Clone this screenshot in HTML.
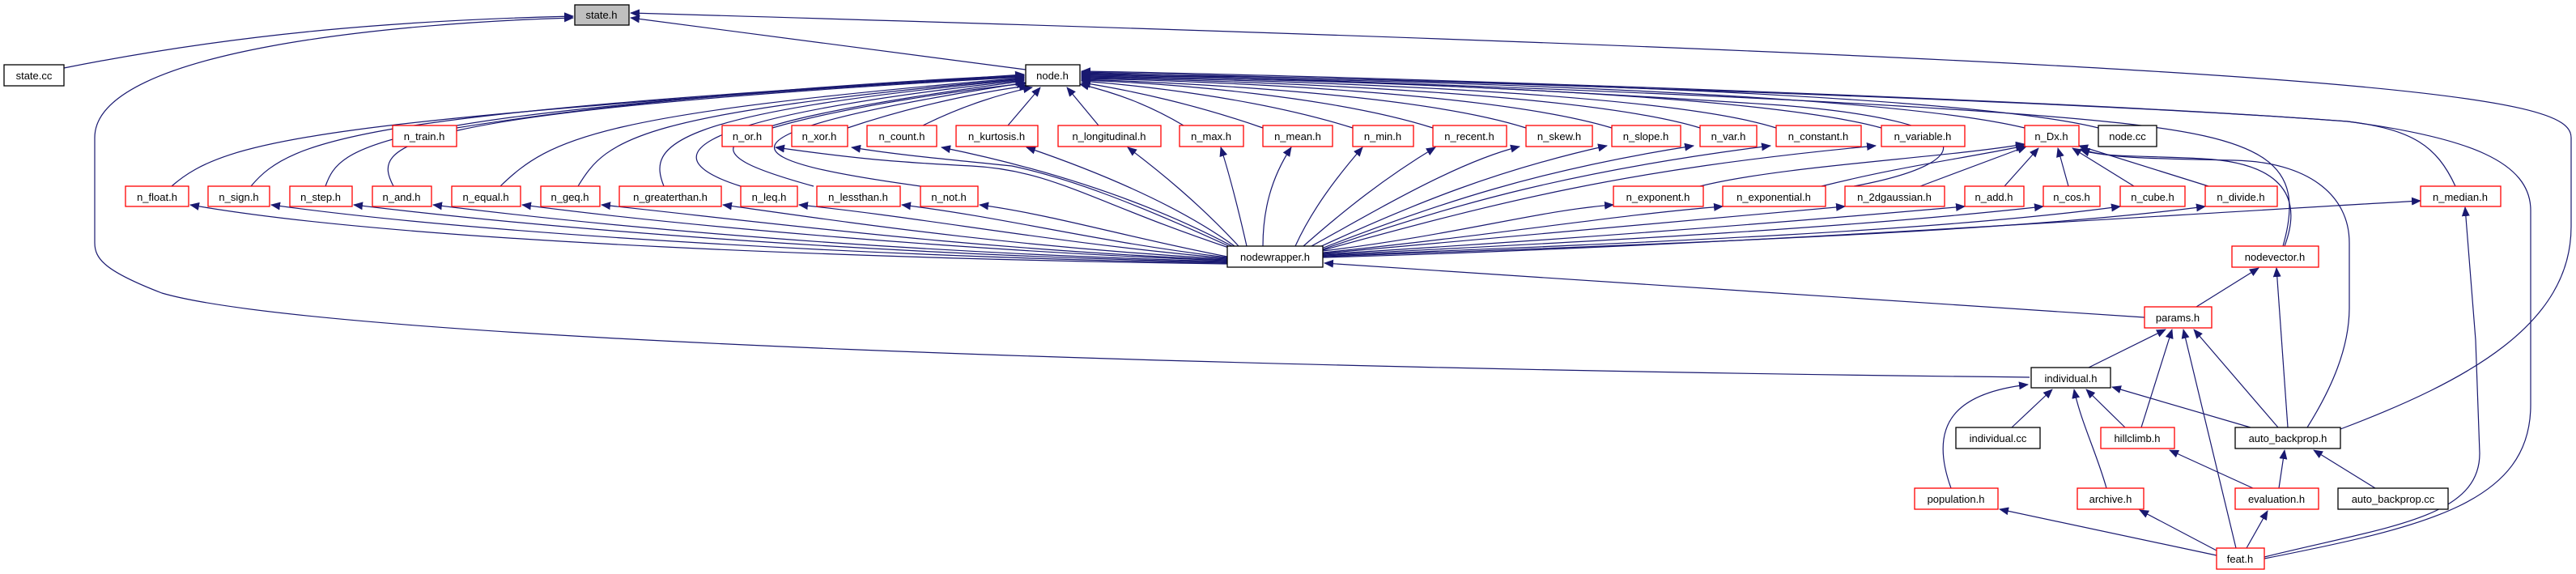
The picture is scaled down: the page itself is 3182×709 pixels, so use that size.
<!DOCTYPE html>
<html><head><meta charset="utf-8"><style>
html,body{margin:0;padding:0;background:#fff;}
svg{display:block;}
text{font-family:"Liberation Sans",sans-serif;font-size:13px;fill:#000;text-anchor:middle;}
.r{fill:#fff;stroke:#ff0000;stroke-width:1.3;}
.b{fill:#fff;stroke:#000;stroke-width:1.3;}
.e{fill:none;stroke:#191970;stroke-width:1.2;marker-end:url(#a);}
</style></head><body>
<svg width="3182" height="709" viewBox="0 0 3182 709" xmlns="http://www.w3.org/2000/svg">
<defs><marker id="a" markerWidth="12" markerHeight="10" refX="11" refY="5" orient="auto" markerUnits="userSpaceOnUse"><path d="M0,0 L12,5 L0,10 z" fill="#191970"/></marker></defs>
<g>
<path class="e" d="M79,84 C300,40 500,25 708,20"/>
<path class="e" d="M1267,86 L779,22"/>
<path class="e" d="M2507,466 C1500,455 400,420 200,362 C130,335 117,320 117,300 L117,170 C117,60 500,28 708,22"/>
<path class="e" d="M2891,530 C3050,470 3176,400 3176,280 L3176,170 C3176,120 3000,80 779,16"/>
<path class="e" d="M212,230 C280,170 400,150 1265,92"/>
<path class="e" d="M310,230 C360,170 450,140 1265,93"/>
<path class="e" d="M402,230 C420,180 450,140 1265,94"/>
<path class="e" d="M486,230 C460,180 470,140 1265,95"/>
<path class="e" d="M618,230 C680,170 740,140 1265,96"/>
<path class="e" d="M714,230 C750,170 790,140 1265,97"/>
<path class="e" d="M820,230 C800,180 820,140 1265,98"/>
<path class="e" d="M915,230 C820,200 800,150 1265,99"/>
<path class="e" d="M1005,230 C860,190 820,160 1265,100"/>
<path class="e" d="M1137,230 C920,200 830,170 1267,102"/>
<path class="e" d="M564,158 C800,120 1100,100 1265,93"/>
<path class="e" d="M954,158 C1050,130 1200,110 1267,103"/>
<path class="e" d="M1047,158 C1130,130 1220,112 1270,106"/>
<path class="e" d="M1140,155 C1190,130 1240,115 1275,108"/>
<path class="e" d="M1245,155 L1285,108"/>
<path class="e" d="M1357,155 L1318,108"/>
<path class="e" d="M1462,155 C1420,130 1380,115 1334,104"/>
<path class="e" d="M1560,158 C1480,130 1400,112 1336,102"/>
<path class="e" d="M1671,158 C1550,120 1400,105 1336,100"/>
<path class="e" d="M1770,158 C1650,120 1450,103 1336,99"/>
<path class="e" d="M1885,158 C1750,115 1450,102 1336,98"/>
<path class="e" d="M1991,158 C1850,115 1500,100 1336,97"/>
<path class="e" d="M2100,158 C1950,112 1500,99 1336,96"/>
<path class="e" d="M2194,158 C2050,112 1550,98 1336,95"/>
<path class="e" d="M2324,158 C2150,110 1550,97 1336,94"/>
<path class="e" d="M2501,158 C2300,110 1600,96 1336,93"/>
<path class="e" d="M2592,158 C2400,110 1600,94 1336,92"/>
<path class="e" d="M2290,230 C2450,200 2450,150 2200,130 C1900,110 1600,96 1336,91"/>
<path class="e" d="M2820,304 C2850,200 2800,170 2600,150 C2300,120 1600,98 1336,90"/>
<path class="e" d="M3033,230 C3010,180 2980,160 2900,150 C2500,120 1600,95 1336,89"/>
<path class="e" d="M2797,690 C3000,650 3126,620 3126,500 L3126,260 C3126,200 3050,170 2900,150 C2500,120 1600,92 1336,88"/>
<path class="e" d="M1516,326 C1100,320 500,300 235,253"/>
<path class="e" d="M1516,325 C1100,318 600,290 335,253"/>
<path class="e" d="M1516,324 C1100,315 700,285 437,253"/>
<path class="e" d="M1516,323 C1100,312 750,280 535,253"/>
<path class="e" d="M1516,322 C1200,310 850,280 645,253"/>
<path class="e" d="M1516,321 C1200,308 950,275 743,253"/>
<path class="e" d="M1516,320 C1250,305 1050,275 893,253"/>
<path class="e" d="M1516,319 C1300,300 1150,270 987,253"/>
<path class="e" d="M1516,318 C1350,298 1250,270 1114,253"/>
<path class="e" d="M1516,317 C1400,295 1300,265 1210,253"/>
<path class="e" d="M1518,306 C1350,250 1300,210 1200,205 C1100,200 1050,195 958,182"/>
<path class="e" d="M1520,305 C1400,250 1320,220 1250,205 C1150,195 1100,190 1052,182"/>
<path class="e" d="M1522,304 C1420,250 1300,210 1163,182"/>
<path class="e" d="M1525,304 C1450,250 1350,210 1268,182"/>
<path class="e" d="M1530,304 C1480,250 1430,210 1393,182"/>
<path class="e" d="M1540,304 C1530,260 1520,220 1508,182"/>
<path class="e" d="M1560,304 C1560,260 1570,220 1595,182"/>
<path class="e" d="M1600,304 C1620,260 1650,220 1683,182"/>
<path class="e" d="M1610,304 C1660,260 1710,220 1773,182"/>
<path class="e" d="M1620,304 C1700,260 1800,200 1877,181"/>
<path class="e" d="M1628,306 C1750,250 1850,210 1985,180"/>
<path class="e" d="M1632,307 C1780,250 1900,210 2092,180"/>
<path class="e" d="M1634,308 C1800,250 1950,210 2187,180"/>
<path class="e" d="M1634,309 C1850,250 2000,210 2317,180"/>
<path class="e" d="M1634,310 C1800,290 1900,260 1993,253"/>
<path class="e" d="M1634,312 C1850,290 2000,265 2128,255"/>
<path class="e" d="M1634,313 C1900,290 2100,270 2279,255"/>
<path class="e" d="M1634,314 C1950,295 2200,275 2427,255"/>
<path class="e" d="M1634,315 C2000,297 2300,280 2524,255"/>
<path class="e" d="M1634,316 C2050,299 2400,285 2619,255"/>
<path class="e" d="M1634,317 C2100,300 2500,285 2724,255"/>
<path class="e" d="M1634,318 C2100,305 2600,270 2990,248"/>
<path class="e" d="M2100,230 C2200,205 2400,195 2501,178"/>
<path class="e" d="M2250,230 C2350,205 2430,195 2501,180"/>
<path class="e" d="M2372,230 L2503,181"/>
<path class="e" d="M2476,230 L2518,183"/>
<path class="e" d="M2555,230 L2542,183"/>
<path class="e" d="M2636,230 L2560,183"/>
<path class="e" d="M2728,230 L2568,180"/>
<path class="e" d="M2822,304 C2850,230 2800,200 2720,196 C2650,192 2600,195 2570,185"/>
<path class="e" d="M2850,528 C2880,480 2902,430 2902,380 L2902,300 C2902,240 2850,200 2760,198 C2650,196 2600,195 2570,184"/>
<path class="e" d="M2649,392 L1636,325"/>
<path class="e" d="M2713,379 L2790,331"/>
<path class="e" d="M2826,528 L2812,331"/>
<path class="e" d="M2797,688 C2950,650 3063,640 3063,560 L3058,420 L3045,256"/>
<path class="e" d="M2580,454 L2675,407"/>
<path class="e" d="M2645,528 L2683,407"/>
<path class="e" d="M2762,677 L2697,407"/>
<path class="e" d="M2814,528 L2710,407"/>
<path class="e" d="M2485,528 L2535,481"/>
<path class="e" d="M2625,528 L2577,481"/>
<path class="e" d="M2602,603 C2590,560 2570,520 2562,481"/>
<path class="e" d="M2410,603 C2380,520 2420,485 2505,475"/>
<path class="e" d="M2780,528 L2609,478"/>
<path class="e" d="M2815,603 L2822,556"/>
<path class="e" d="M2934,603 L2858,556"/>
<path class="e" d="M2783,603 L2680,556"/>
<path class="e" d="M2775,677 L2801,631"/>
<path class="e" d="M2738,680 L2643,630"/>
<path class="e" d="M2738,686 L2470,629"/>
</g>
<g>
<rect x="710" y="6" width="67" height="25" fill="#bfbfbf" stroke="#000" stroke-width="1.3"/><text x="743" y="23">state.h</text>
<rect class="b" x="5" y="80" width="74" height="26"/><text x="42" y="98">state.cc</text>
<rect class="b" x="1267" y="80" width="67" height="26"/><text x="1300" y="98">node.h</text>
<rect class="r" x="485" y="155" width="79" height="26"/><text x="524" y="173">n_train.h</text>
<rect class="r" x="892" y="155" width="62" height="26"/><text x="923" y="173">n_or.h</text>
<rect class="r" x="978" y="155" width="69" height="26"/><text x="1012" y="173">n_xor.h</text>
<rect class="r" x="1071" y="155" width="86" height="26"/><text x="1114" y="173">n_count.h</text>
<rect class="r" x="1181" y="155" width="101" height="26"/><text x="1231" y="173">n_kurtosis.h</text>
<rect class="r" x="1307" y="155" width="127" height="26"/><text x="1370" y="173">n_longitudinal.h</text>
<rect class="r" x="1457" y="155" width="79" height="26"/><text x="1496" y="173">n_max.h</text>
<rect class="r" x="1560" y="155" width="86" height="26"/><text x="1603" y="173">n_mean.h</text>
<rect class="r" x="1671" y="155" width="75" height="26"/><text x="1708" y="173">n_min.h</text>
<rect class="r" x="1770" y="155" width="91" height="26"/><text x="1815" y="173">n_recent.h</text>
<rect class="r" x="1885" y="155" width="82" height="26"/><text x="1926" y="173">n_skew.h</text>
<rect class="r" x="1991" y="155" width="85" height="26"/><text x="2033" y="173">n_slope.h</text>
<rect class="r" x="2100" y="155" width="70" height="26"/><text x="2135" y="173">n_var.h</text>
<rect class="r" x="2194" y="155" width="105" height="26"/><text x="2246" y="173">n_constant.h</text>
<rect class="r" x="2324" y="155" width="103" height="26"/><text x="2375" y="173">n_variable.h</text>
<rect class="r" x="2501" y="155" width="67" height="26"/><text x="2534" y="173">n_Dx.h</text>
<rect class="b" x="2592" y="155" width="72" height="26"/><text x="2628" y="173">node.cc</text>
<rect class="r" x="155" y="230" width="78" height="25"/><text x="194" y="248">n_float.h</text>
<rect class="r" x="257" y="230" width="76" height="25"/><text x="295" y="248">n_sign.h</text>
<rect class="r" x="358" y="230" width="77" height="25"/><text x="396" y="248">n_step.h</text>
<rect class="r" x="460" y="230" width="73" height="25"/><text x="496" y="248">n_and.h</text>
<rect class="r" x="558" y="230" width="85" height="25"/><text x="600" y="248">n_equal.h</text>
<rect class="r" x="668" y="230" width="73" height="25"/><text x="704" y="248">n_geq.h</text>
<rect class="r" x="765" y="230" width="126" height="25"/><text x="828" y="248">n_greaterthan.h</text>
<rect class="r" x="915" y="230" width="70" height="25"/><text x="950" y="248">n_leq.h</text>
<rect class="r" x="1009" y="230" width="103" height="25"/><text x="1060" y="248">n_lessthan.h</text>
<rect class="r" x="1137" y="230" width="71" height="25"/><text x="1172" y="248">n_not.h</text>
<rect class="r" x="1993" y="230" width="111" height="25"/><text x="2048" y="248">n_exponent.h</text>
<rect class="r" x="2128" y="230" width="127" height="25"/><text x="2191" y="248">n_exponential.h</text>
<rect class="r" x="2279" y="230" width="123" height="25"/><text x="2340" y="248">n_2dgaussian.h</text>
<rect class="r" x="2427" y="230" width="73" height="25"/><text x="2463" y="248">n_add.h</text>
<rect class="r" x="2524" y="230" width="70" height="25"/><text x="2559" y="248">n_cos.h</text>
<rect class="r" x="2619" y="230" width="80" height="25"/><text x="2659" y="248">n_cube.h</text>
<rect class="r" x="2724" y="230" width="89" height="25"/><text x="2768" y="248">n_divide.h</text>
<rect class="r" x="2990" y="230" width="99" height="25"/><text x="3039" y="248">n_median.h</text>
<rect class="b" x="1516" y="304" width="118" height="26"/><text x="1575" y="322">nodewrapper.h</text>
<rect class="r" x="2757" y="304" width="107" height="26"/><text x="2810" y="322">nodevector.h</text>
<rect class="r" x="2649" y="379" width="83" height="26"/><text x="2690" y="397">params.h</text>
<rect class="b" x="2509" y="454" width="98" height="25"/><text x="2558" y="472">individual.h</text>
<rect class="b" x="2416" y="528" width="104" height="26"/><text x="2468" y="546">individual.cc</text>
<rect class="r" x="2595" y="528" width="91" height="26"/><text x="2640" y="546">hillclimb.h</text>
<rect class="b" x="2761" y="528" width="130" height="26"/><text x="2826" y="546">auto_backprop.h</text>
<rect class="r" x="2365" y="603" width="103" height="26"/><text x="2416" y="621">population.h</text>
<rect class="r" x="2566" y="603" width="82" height="26"/><text x="2607" y="621">archive.h</text>
<rect class="r" x="2761" y="603" width="103" height="26"/><text x="2812" y="621">evaluation.h</text>
<rect class="b" x="2888" y="603" width="136" height="26"/><text x="2956" y="621">auto_backprop.cc</text>
<rect class="r" x="2738" y="677" width="59" height="26"/><text x="2767" y="695">feat.h</text>
</g>
</svg>
</body></html>
